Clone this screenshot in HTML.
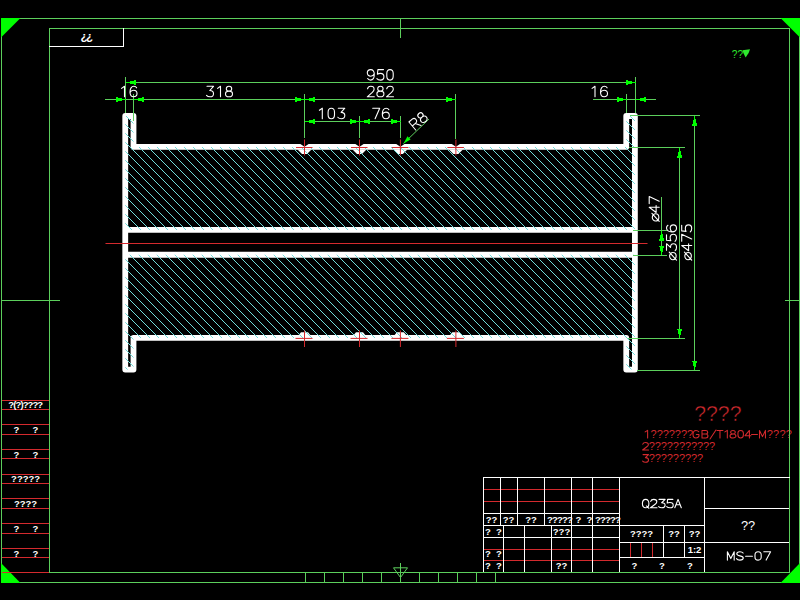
<!DOCTYPE html>
<html><head><meta charset="utf-8"><title>drawing</title>
<style>
html,body{margin:0;padding:0;background:#000;width:800px;height:600px;overflow:hidden;}
svg{display:block;font-family:"Liberation Sans",sans-serif;}
</style></head>
<body>
<svg width="800" height="600" viewBox="0 0 800 600">
<rect x="0" y="0" width="800" height="600" fill="#000"/>
<text x="748" y="530" font-size="12.8" fill="#ffffff" text-anchor="middle" font-family="Liberation Sans">??</text>
<text x="694.2" y="420.8" font-size="21.2" fill="#d42a2e" stroke="#000" stroke-width="0.5" font-family="Liberation Sans" letter-spacing="0.05">????</text>
<text x="650.6" y="438.3" font-size="11" fill="#d42a2e" stroke="none" stroke-width="0" font-family="Liberation Sans" letter-spacing="-0.05">???????</text>
<text x="766.8" y="438.3" font-size="11" fill="#d42a2e" stroke="none" stroke-width="0" font-family="Liberation Sans" letter-spacing="0.2">????</text>
<text x="648.8" y="450.3" font-size="11" fill="#d42a2e" stroke="none" stroke-width="0" font-family="Liberation Sans" letter-spacing="-0.1">???????????</text>
<text x="648.8" y="462.3" font-size="11" fill="#d42a2e" stroke="none" stroke-width="0" font-family="Liberation Sans" letter-spacing="-0.1">?????????</text>
<line x1="1" y1="18.5" x2="800" y2="18.5" stroke="#5ccf5c" stroke-width="1"/>
<line x1="1" y1="582.5" x2="800" y2="582.5" stroke="#5ccf5c" stroke-width="1"/>
<line x1="1.5" y1="18" x2="1.5" y2="583" stroke="#5ccf5c" stroke-width="1"/>
<line x1="799.5" y1="18" x2="799.5" y2="583" stroke="#5ccf5c" stroke-width="1"/>
<line x1="49" y1="28.5" x2="790" y2="28.5" stroke="#5ccf5c" stroke-width="1"/>
<line x1="49" y1="572.5" x2="790" y2="572.5" stroke="#5ccf5c" stroke-width="1"/>
<line x1="49.5" y1="28" x2="49.5" y2="573" stroke="#5ccf5c" stroke-width="1"/>
<line x1="789.5" y1="28" x2="789.5" y2="573" stroke="#5ccf5c" stroke-width="1"/>
<polygon points="1,18 20.5,18 1,37.5" fill="#00ff00"/>
<polygon points="780.5,18 800,18 800,37.5" fill="#00ff00"/>
<polygon points="1,563 1,583 20.5,583" fill="#00ff00"/>
<polygon points="780.5,583 800,583 800,563" fill="#00ff00"/>
<line x1="400.5" y1="18" x2="400.5" y2="38" stroke="#5ccf5c" stroke-width="1"/>
<line x1="1" y1="300.5" x2="60" y2="300.5" stroke="#5ccf5c" stroke-width="1"/>
<line x1="785" y1="300.5" x2="800" y2="300.5" stroke="#5ccf5c" stroke-width="1"/>
<line x1="305.5" y1="572" x2="305.5" y2="583" stroke="#5ccf5c" stroke-width="1"/>
<line x1="324.5" y1="572" x2="324.5" y2="583" stroke="#5ccf5c" stroke-width="1"/>
<line x1="343.5" y1="572" x2="343.5" y2="583" stroke="#5ccf5c" stroke-width="1"/>
<line x1="362.5" y1="572" x2="362.5" y2="583" stroke="#5ccf5c" stroke-width="1"/>
<line x1="381.5" y1="572" x2="381.5" y2="583" stroke="#5ccf5c" stroke-width="1"/>
<line x1="400.5" y1="572" x2="400.5" y2="583" stroke="#5ccf5c" stroke-width="1"/>
<line x1="419.5" y1="572" x2="419.5" y2="583" stroke="#5ccf5c" stroke-width="1"/>
<line x1="438.5" y1="572" x2="438.5" y2="583" stroke="#5ccf5c" stroke-width="1"/>
<line x1="457.5" y1="572" x2="457.5" y2="583" stroke="#5ccf5c" stroke-width="1"/>
<line x1="476.5" y1="572" x2="476.5" y2="583" stroke="#5ccf5c" stroke-width="1"/>
<line x1="495.5" y1="572" x2="495.5" y2="583" stroke="#5ccf5c" stroke-width="1"/>
<polygon points="393.5,567.8 407.5,567.8 400.5,577.5" fill="none" stroke="#5ccf5c" stroke-width="1"/>
<line x1="400.5" y1="563" x2="400.5" y2="578" stroke="#5ccf5c" stroke-width="1"/>
<line x1="2" y1="400.5" x2="49" y2="400.5" stroke="#d42a2e" stroke-width="1"/>
<line x1="2" y1="409.5" x2="49" y2="409.5" stroke="#d42a2e" stroke-width="1"/>
<line x1="2" y1="424.5" x2="49" y2="424.5" stroke="#d42a2e" stroke-width="1"/>
<line x1="2" y1="434.5" x2="49" y2="434.5" stroke="#d42a2e" stroke-width="1"/>
<line x1="2" y1="449.5" x2="49" y2="449.5" stroke="#d42a2e" stroke-width="1"/>
<line x1="2" y1="458.5" x2="49" y2="458.5" stroke="#d42a2e" stroke-width="1"/>
<line x1="2" y1="474.5" x2="49" y2="474.5" stroke="#d42a2e" stroke-width="1"/>
<line x1="2" y1="483.5" x2="49" y2="483.5" stroke="#d42a2e" stroke-width="1"/>
<line x1="2" y1="498.5" x2="49" y2="498.5" stroke="#d42a2e" stroke-width="1"/>
<line x1="2" y1="508.5" x2="49" y2="508.5" stroke="#d42a2e" stroke-width="1"/>
<line x1="2" y1="523.5" x2="49" y2="523.5" stroke="#d42a2e" stroke-width="1"/>
<line x1="2" y1="533.5" x2="49" y2="533.5" stroke="#d42a2e" stroke-width="1"/>
<line x1="2" y1="548.5" x2="49" y2="548.5" stroke="#d42a2e" stroke-width="1"/>
<line x1="2" y1="557.5" x2="49" y2="557.5" stroke="#d42a2e" stroke-width="1"/>
<line x1="2" y1="572.5" x2="49" y2="572.5" stroke="#d42a2e" stroke-width="1"/>
<line x1="483" y1="489.5" x2="619" y2="489.5" stroke="#d42a2e" stroke-width="1"/>
<line x1="483" y1="501.5" x2="619" y2="501.5" stroke="#d42a2e" stroke-width="1"/>
<line x1="483" y1="549.5" x2="619" y2="549.5" stroke="#d42a2e" stroke-width="1"/>
<line x1="483" y1="560.5" x2="619" y2="560.5" stroke="#d42a2e" stroke-width="1"/>
<line x1="630.5" y1="543" x2="630.5" y2="557" stroke="#d42a2e" stroke-width="1"/>
<line x1="641.5" y1="543" x2="641.5" y2="557" stroke="#d42a2e" stroke-width="1"/>
<line x1="652.5" y1="543" x2="652.5" y2="557" stroke="#d42a2e" stroke-width="1"/>
<line x1="630.5" y1="545" x2="630.5" y2="555" stroke="#d42a2e" stroke-width="1"/>
<line x1="483" y1="477.5" x2="790" y2="477.5" stroke="#ffffff" stroke-width="1"/>
<line x1="483.5" y1="477" x2="483.5" y2="572" stroke="#ffffff" stroke-width="1"/>
<line x1="619.5" y1="477" x2="619.5" y2="572" stroke="#ffffff" stroke-width="1"/>
<line x1="704.5" y1="477" x2="704.5" y2="572" stroke="#ffffff" stroke-width="1"/>
<line x1="483" y1="513.5" x2="619" y2="513.5" stroke="#ffffff" stroke-width="1"/>
<line x1="483" y1="525.5" x2="704" y2="525.5" stroke="#ffffff" stroke-width="1"/>
<line x1="483" y1="537.5" x2="619" y2="537.5" stroke="#ffffff" stroke-width="1"/>
<line x1="704" y1="508.5" x2="789" y2="508.5" stroke="#ffffff" stroke-width="1"/>
<line x1="619" y1="542.5" x2="789" y2="542.5" stroke="#ffffff" stroke-width="1"/>
<line x1="619" y1="557.5" x2="704" y2="557.5" stroke="#ffffff" stroke-width="1"/>
<line x1="500.5" y1="477" x2="500.5" y2="525" stroke="#ffffff" stroke-width="1"/>
<line x1="517.5" y1="477" x2="517.5" y2="525" stroke="#ffffff" stroke-width="1"/>
<line x1="544.5" y1="477" x2="544.5" y2="525" stroke="#ffffff" stroke-width="1"/>
<line x1="571.5" y1="477" x2="571.5" y2="572" stroke="#ffffff" stroke-width="1"/>
<line x1="592.5" y1="477" x2="592.5" y2="572" stroke="#ffffff" stroke-width="1"/>
<line x1="503.5" y1="525" x2="503.5" y2="572" stroke="#ffffff" stroke-width="1"/>
<line x1="524.5" y1="525" x2="524.5" y2="572" stroke="#ffffff" stroke-width="1"/>
<line x1="551.5" y1="525" x2="551.5" y2="572" stroke="#ffffff" stroke-width="1"/>
<line x1="663.5" y1="525" x2="663.5" y2="557" stroke="#ffffff" stroke-width="1"/>
<line x1="684.5" y1="525" x2="684.5" y2="557" stroke="#ffffff" stroke-width="1"/>
<line x1="123.5" y1="28" x2="123.5" y2="47" stroke="#ffffff" stroke-width="1"/>
<line x1="49" y1="46.5" x2="124" y2="46.5" stroke="#ffffff" stroke-width="1"/>
<path d="M125.25,229.9 V116.0 H133.5 V146.9 H626.25 V116.0 H634.9 V229.9 Z M125.25,254.75 V369.6 H133.5 V337.9 H626.25 V369.6 H634.9 V254.75 Z M125.25,229.9 V254.75 M634.9,229.9 V254.75" fill="none" stroke="#ffffff" stroke-width="5.8" stroke-linejoin="round" stroke-linecap="round"/>
<polygon points="297.5,149.5 302.0,154 307.0,154 311.5,149.5" fill="#ffffff"/>
<polygon points="298.5,335.3 301.0,332.3 308.0,332.3 310.5,335.3" fill="#ffffff"/>
<polygon points="352.5,149.5 357.0,154 362.0,154 366.5,149.5" fill="#ffffff"/>
<polygon points="353.5,335.3 356.0,332.3 363.0,332.3 365.5,335.3" fill="#ffffff"/>
<polygon points="393.4,149.5 397.9,154 402.9,154 407.4,149.5" fill="#ffffff"/>
<polygon points="394.4,335.3 396.9,332.3 403.9,332.3 406.4,335.3" fill="#ffffff"/>
<polygon points="448.9,149.5 453.4,154 458.4,154 462.9,149.5" fill="#ffffff"/>
<polygon points="449.9,335.3 452.4,332.3 459.4,332.3 461.9,335.3" fill="#ffffff"/>
<clipPath id="hc"><path d="M125.25,229.9 V116.0 H133.5 V146.9 H626.25 V116.0 H634.9 V229.9 Z M125.25,254.75 V369.6 H133.5 V337.9 H626.25 V369.6 H634.9 V254.75 Z"/></clipPath>
<g clip-path="url(#hc)">
<path d="M-182,105L93,380M-173,105L102,380M-164,105L111,380M-155,105L120,380M-146,105L129,380M-137,105L138,380M-128,105L147,380M-119,105L156,380M-110,105L165,380M-101,105L174,380M-92,105L183,380M-83,105L192,380M-74,105L201,380M-65,105L210,380M-56,105L219,380M-47,105L228,380M-38,105L237,380M-29,105L246,380M-20,105L255,380M-11,105L264,380M-2,105L273,380M7,105L282,380M16,105L291,380M25,105L300,380M34,105L309,380M43,105L318,380M52,105L327,380M61,105L336,380M70,105L345,380M79,105L354,380M88,105L363,380M97,105L372,380M106,105L381,380M115,105L390,380M124,105L399,380M133,105L408,380M142,105L417,380M151,105L426,380M160,105L435,380M169,105L444,380M178,105L453,380M187,105L462,380M196,105L471,380M205,105L480,380M214,105L489,380M223,105L498,380M232,105L507,380M241,105L516,380M250,105L525,380M259,105L534,380M268,105L543,380M277,105L552,380M286,105L561,380M295,105L570,380M304,105L579,380M313,105L588,380M322,105L597,380M331,105L606,380M340,105L615,380M349,105L624,380M358,105L633,380M367,105L642,380M376,105L651,380M385,105L660,380M394,105L669,380M403,105L678,380M412,105L687,380M421,105L696,380M430,105L705,380M439,105L714,380M448,105L723,380M457,105L732,380M466,105L741,380M475,105L750,380M484,105L759,380M493,105L768,380M502,105L777,380M511,105L786,380M520,105L795,380M529,105L804,380M538,105L813,380M547,105L822,380M556,105L831,380M565,105L840,380M574,105L849,380M583,105L858,380M592,105L867,380M601,105L876,380M610,105L885,380M619,105L894,380M628,105L903,380M637,105L912,380M646,105L921,380M655,105L930,380" stroke="#70dcda" stroke-width="1" fill="none"/>
</g>
<polygon points="300.0,143.8 304.5,146.8 309.0,143.8" fill="#000"/>
<line x1="296.0" y1="147.5" x2="312.5" y2="147.5" stroke="#d42a2e" stroke-width="1"/>
<line x1="304.5" y1="139.5" x2="304.5" y2="155.5" stroke="#d42a2e" stroke-width="1"/>
<line x1="295.5" y1="338.4" x2="312.5" y2="338.4" stroke="#d42a2e" stroke-width="1"/>
<line x1="304.5" y1="330.5" x2="304.5" y2="347" stroke="#d42a2e" stroke-width="1"/>
<polygon points="355.0,143.8 359.5,146.8 364.0,143.8" fill="#000"/>
<line x1="351.0" y1="147.5" x2="367.5" y2="147.5" stroke="#d42a2e" stroke-width="1"/>
<line x1="359.5" y1="139.5" x2="359.5" y2="155.5" stroke="#d42a2e" stroke-width="1"/>
<line x1="350.5" y1="338.4" x2="367.5" y2="338.4" stroke="#d42a2e" stroke-width="1"/>
<line x1="359.5" y1="330.5" x2="359.5" y2="347" stroke="#d42a2e" stroke-width="1"/>
<polygon points="395.9,143.8 400.4,146.8 404.9,143.8" fill="#000"/>
<line x1="391.9" y1="147.5" x2="408.4" y2="147.5" stroke="#d42a2e" stroke-width="1"/>
<line x1="400.4" y1="139.5" x2="400.4" y2="155.5" stroke="#d42a2e" stroke-width="1"/>
<line x1="391.4" y1="338.4" x2="408.4" y2="338.4" stroke="#d42a2e" stroke-width="1"/>
<line x1="400.4" y1="330.5" x2="400.4" y2="347" stroke="#d42a2e" stroke-width="1"/>
<polygon points="451.4,143.8 455.9,146.8 460.4,143.8" fill="#000"/>
<line x1="447.4" y1="147.5" x2="463.9" y2="147.5" stroke="#d42a2e" stroke-width="1"/>
<line x1="455.9" y1="139.5" x2="455.9" y2="155.5" stroke="#d42a2e" stroke-width="1"/>
<line x1="446.9" y1="338.4" x2="463.9" y2="338.4" stroke="#d42a2e" stroke-width="1"/>
<line x1="455.9" y1="330.5" x2="455.9" y2="347" stroke="#d42a2e" stroke-width="1"/>
<line x1="105.5" y1="243.5" x2="647.5" y2="243.5" stroke="#d42a2e" stroke-width="1"/>
<line x1="125" y1="82.5" x2="636" y2="82.5" stroke="#5ccf5c" stroke-width="1"/>
<line x1="125.5" y1="77" x2="125.5" y2="113" stroke="#5ccf5c" stroke-width="1"/>
<line x1="635.5" y1="77" x2="635.5" y2="113" stroke="#5ccf5c" stroke-width="1"/>
<polygon points="125.5,82.5 135.5,80.0 135.5,85.0" fill="#00ff00" shape-rendering="crispEdges"/>
<polygon points="635.5,82.5 625.5,80.0 625.5,85.0" fill="#00ff00" shape-rendering="crispEdges"/>
<line x1="105" y1="99.5" x2="456" y2="99.5" stroke="#5ccf5c" stroke-width="1"/>
<line x1="593" y1="99.5" x2="656" y2="99.5" stroke="#5ccf5c" stroke-width="1"/>
<line x1="133.5" y1="94" x2="133.5" y2="121" stroke="#5ccf5c" stroke-width="1"/>
<line x1="304.5" y1="94" x2="304.5" y2="138" stroke="#5ccf5c" stroke-width="1"/>
<line x1="455.5" y1="94" x2="455.5" y2="139" stroke="#5ccf5c" stroke-width="1"/>
<line x1="626.5" y1="94" x2="626.5" y2="113" stroke="#5ccf5c" stroke-width="1"/>
<polygon points="125.5,99.5 115.5,97.0 115.5,102.0" fill="#00ff00" shape-rendering="crispEdges"/>
<polygon points="133.5,99.5 143.5,97.0 143.5,102.0" fill="#00ff00" shape-rendering="crispEdges"/>
<polygon points="304.5,99.5 294.5,97.0 294.5,102.0" fill="#00ff00" shape-rendering="crispEdges"/>
<polygon points="304.5,99.5 314.5,97.0 314.5,102.0" fill="#00ff00" shape-rendering="crispEdges"/>
<polygon points="455.5,99.5 445.5,97.0 445.5,102.0" fill="#00ff00" shape-rendering="crispEdges"/>
<polygon points="626.5,99.5 616.5,97.0 616.5,102.0" fill="#00ff00" shape-rendering="crispEdges"/>
<polygon points="635.5,99.5 645.5,97.0 645.5,102.0" fill="#00ff00" shape-rendering="crispEdges"/>
<line x1="304" y1="121.5" x2="401" y2="121.5" stroke="#5ccf5c" stroke-width="1"/>
<line x1="359.5" y1="116" x2="359.5" y2="138" stroke="#5ccf5c" stroke-width="1"/>
<line x1="400.5" y1="116" x2="400.5" y2="138" stroke="#5ccf5c" stroke-width="1"/>
<polygon points="304.5,121.5 314.5,119.0 314.5,124.0" fill="#00ff00" shape-rendering="crispEdges"/>
<polygon points="359.5,121.5 349.5,119.0 349.5,124.0" fill="#00ff00" shape-rendering="crispEdges"/>
<polygon points="359.5,121.5 369.5,119.0 369.5,124.0" fill="#00ff00" shape-rendering="crispEdges"/>
<polygon points="400.5,121.5 390.5,119.0 390.5,124.0" fill="#00ff00" shape-rendering="crispEdges"/>
<line x1="403.5" y1="143.5" x2="429" y2="119" stroke="#5ccf5c" stroke-width="1"/>
<polygon points="403.5,143.5 407.5,136.3 410.6,139.5" fill="#00ff00"/>
<line x1="630" y1="115.5" x2="700" y2="115.5" stroke="#5ccf5c" stroke-width="1"/>
<line x1="637" y1="370.5" x2="700" y2="370.5" stroke="#5ccf5c" stroke-width="1"/>
<line x1="694.5" y1="115.5" x2="694.5" y2="370.5" stroke="#5ccf5c" stroke-width="1"/>
<polygon points="694.5,115.5 692.0,125.5 697.0,125.5" fill="#00ff00" shape-rendering="crispEdges"/>
<polygon points="694.5,370.5 692.0,360.5 697.0,360.5" fill="#00ff00" shape-rendering="crispEdges"/>
<line x1="629" y1="147.5" x2="685" y2="147.5" stroke="#5ccf5c" stroke-width="1"/>
<line x1="628" y1="338.5" x2="685" y2="338.5" stroke="#5ccf5c" stroke-width="1"/>
<line x1="679.5" y1="147.5" x2="679.5" y2="338.5" stroke="#5ccf5c" stroke-width="1"/>
<polygon points="679.5,147.5 677.0,157.5 682.0,157.5" fill="#00ff00" shape-rendering="crispEdges"/>
<polygon points="679.5,338.5 677.0,328.5 682.0,328.5" fill="#00ff00" shape-rendering="crispEdges"/>
<line x1="633" y1="230.5" x2="667" y2="230.5" stroke="#5ccf5c" stroke-width="1"/>
<line x1="633" y1="255.5" x2="667" y2="255.5" stroke="#5ccf5c" stroke-width="1"/>
<line x1="661.5" y1="197" x2="661.5" y2="256" stroke="#5ccf5c" stroke-width="1"/>
<polygon points="661.5,230.5 659.0,240.5 664.0,240.5" fill="#00ff00" shape-rendering="crispEdges"/>
<polygon points="661.5,255.5 659.0,245.5 664.0,245.5" fill="#00ff00" shape-rendering="crispEdges"/>
<g transform="translate(367.3,69.6) scale(1.0,0.9545)" fill="none" stroke="#ffffff" stroke-width="1.1" stroke-linejoin="round" stroke-linecap="round"><path vector-effect="non-scaling-stroke" transform="translate(0.000,0)" d="M0.4,9.4 C0.9,10.4 2,11 3.2,11 C5.5,11 7,8.5 7,5 C7,1.7 5.6,0 3.4,0 C1.3,0 0,1.4 0,3.4 C0,5.5 1.4,6.9 3.4,6.9 C5.2,6.9 6.4,6 7,4.4"/><path vector-effect="non-scaling-stroke" transform="translate(9.600,0)" d="M6.6,0 L1,0 L0.5,4.8 C1.3,4.3 2.4,4 3.5,4 C5.7,4 7,5.5 7,7.5 C7,9.7 5.6,11 3.5,11 C2,11 0.8,10.4 0,9.4"/><path vector-effect="non-scaling-stroke" transform="translate(19.200,0)" d="M3.5,0 C1.3,0 0.3,1.6 0.3,4.2 L0.3,6.8 C0.3,9.4 1.3,11 3.5,11 C5.7,11 6.7,9.4 6.7,6.8 L6.7,4.2 C6.7,1.6 5.7,0 3.5,0 Z"/></g>
<g transform="translate(206.5,86.3) scale(1.0,0.9545)" fill="none" stroke="#ffffff" stroke-width="1.1" stroke-linejoin="round" stroke-linecap="round"><path vector-effect="non-scaling-stroke" transform="translate(0.000,0)" d="M0.5,0 L7,0 L3.3,4.4 C5.8,4.4 7,5.8 7,7.7 C7,9.8 5.6,11 3.5,11 C2,11 0.8,10.5 0,9.5"/><path vector-effect="non-scaling-stroke" transform="translate(9.500,0)" d="M1.6,2.2 L4.5,0 L4.5,11"/><path vector-effect="non-scaling-stroke" transform="translate(19.000,0)" d="M3.5,0 C1.9,0 0.8,1 0.8,2.6 C0.8,4.1 1.9,5.1 3.5,5.1 C5.1,5.1 6.2,4.1 6.2,2.6 C6.2,1 5.1,0 3.5,0 Z M3.5,5.1 C1.4,5.1 0,6.2 0,8 C0,9.8 1.4,11 3.5,11 C5.6,11 7,9.8 7,8 C7,6.2 5.6,5.1 3.5,5.1 Z"/></g>
<g transform="translate(367.3,86.3) scale(1.0,0.9545)" fill="none" stroke="#ffffff" stroke-width="1.1" stroke-linejoin="round" stroke-linecap="round"><path vector-effect="non-scaling-stroke" transform="translate(0.000,0)" d="M0.2,2.6 C0.6,0.9 1.9,0 3.5,0 C5.4,0 6.8,1.2 6.8,3 C6.8,4.4 6,5.4 5,6.3 L0,11 L7,11"/><path vector-effect="non-scaling-stroke" transform="translate(9.600,0)" d="M3.5,0 C1.9,0 0.8,1 0.8,2.6 C0.8,4.1 1.9,5.1 3.5,5.1 C5.1,5.1 6.2,4.1 6.2,2.6 C6.2,1 5.1,0 3.5,0 Z M3.5,5.1 C1.4,5.1 0,6.2 0,8 C0,9.8 1.4,11 3.5,11 C5.6,11 7,9.8 7,8 C7,6.2 5.6,5.1 3.5,5.1 Z"/><path vector-effect="non-scaling-stroke" transform="translate(19.200,0)" d="M0.2,2.6 C0.6,0.9 1.9,0 3.5,0 C5.4,0 6.8,1.2 6.8,3 C6.8,4.4 6,5.4 5,6.3 L0,11 L7,11"/></g>
<g transform="translate(120.0,86.3) scale(1.0,0.9545)" fill="none" stroke="#ffffff" stroke-width="1.1" stroke-linejoin="round" stroke-linecap="round"><path vector-effect="non-scaling-stroke" transform="translate(0.000,0)" d="M1.6,2.2 L4.5,0 L4.5,11"/><path vector-effect="non-scaling-stroke" transform="translate(10.000,0)" d="M6.6,1.6 C6.1,0.6 5,0 3.8,0 C1.5,0 0,2.5 0,6 C0,9.3 1.4,11 3.6,11 C5.7,11 7,9.6 7,7.6 C7,5.5 5.6,4.1 3.6,4.1 C1.8,4.1 0.6,5 0,6.6"/></g>
<g transform="translate(590.5,86.3) scale(1.0,0.9545)" fill="none" stroke="#ffffff" stroke-width="1.1" stroke-linejoin="round" stroke-linecap="round"><path vector-effect="non-scaling-stroke" transform="translate(0.000,0)" d="M1.6,2.2 L4.5,0 L4.5,11"/><path vector-effect="non-scaling-stroke" transform="translate(10.000,0)" d="M6.6,1.6 C6.1,0.6 5,0 3.8,0 C1.5,0 0,2.5 0,6 C0,9.3 1.4,11 3.6,11 C5.7,11 7,9.6 7,7.6 C7,5.5 5.6,4.1 3.6,4.1 C1.8,4.1 0.6,5 0,6.6"/></g>
<g transform="translate(317.8,108.2) scale(1.0,0.9545)" fill="none" stroke="#ffffff" stroke-width="1.1" stroke-linejoin="round" stroke-linecap="round"><path vector-effect="non-scaling-stroke" transform="translate(0.000,0)" d="M1.6,2.2 L4.5,0 L4.5,11"/><path vector-effect="non-scaling-stroke" transform="translate(10.000,0)" d="M3.5,0 C1.3,0 0.3,1.6 0.3,4.2 L0.3,6.8 C0.3,9.4 1.3,11 3.5,11 C5.7,11 6.7,9.4 6.7,6.8 L6.7,4.2 C6.7,1.6 5.7,0 3.5,0 Z"/><path vector-effect="non-scaling-stroke" transform="translate(20.000,0)" d="M0.5,0 L7,0 L3.3,4.4 C5.8,4.4 7,5.8 7,7.7 C7,9.8 5.6,11 3.5,11 C2,11 0.8,10.5 0,9.5"/></g>
<g transform="translate(372.7,108.2) scale(1.0,0.9545)" fill="none" stroke="#ffffff" stroke-width="1.1" stroke-linejoin="round" stroke-linecap="round"><path vector-effect="non-scaling-stroke" transform="translate(0.000,0)" d="M0,0 L7,0 L2.4,11"/><path vector-effect="non-scaling-stroke" transform="translate(9.600,0)" d="M6.6,1.6 C6.1,0.6 5,0 3.8,0 C1.5,0 0,2.5 0,6 C0,9.3 1.4,11 3.6,11 C5.7,11 7,9.6 7,7.6 C7,5.5 5.6,4.1 3.6,4.1 C1.8,4.1 0.6,5 0,6.6"/></g>
<g transform="translate(408.9,122) rotate(-40.5) scale(1.0,0.9545)" fill="none" stroke="#ffffff" stroke-width="1.1" stroke-linejoin="round" stroke-linecap="round"><path vector-effect="non-scaling-stroke" transform="translate(0.000,0)" d="M0,11 L0,0 L4.4,0 C6.1,0 7,1.2 7,2.8 C7,4.4 6.1,5.5 4.4,5.5 L0,5.5 M3.8,5.5 L7,11"/><path vector-effect="non-scaling-stroke" transform="translate(9.600,0)" d="M3.5,0 C1.9,0 0.8,1 0.8,2.6 C0.8,4.1 1.9,5.1 3.5,5.1 C5.1,5.1 6.2,4.1 6.2,2.6 C6.2,1 5.1,0 3.5,0 Z M3.5,5.1 C1.4,5.1 0,6.2 0,8 C0,9.8 1.4,11 3.5,11 C5.6,11 7,9.8 7,8 C7,6.2 5.6,5.1 3.5,5.1 Z"/></g>
<g transform="translate(649.2,221.4) rotate(-90) scale(1.0,0.9091)" fill="none" stroke="#ffffff" stroke-width="1.1" stroke-linejoin="round" stroke-linecap="round"><path vector-effect="non-scaling-stroke" transform="translate(0.000,0)" d="M4,3.4 C2,3.4 0.4,5 0.4,7 C0.4,9 2,10.6 4,10.6 C6,10.6 7.6,9 7.6,7 C7.6,5 6,3.4 4,3.4 Z M0,11 L8,3"/><path vector-effect="non-scaling-stroke" transform="translate(8.900,0)" d="M5.2,11 L5.2,0 L0,7.6 L7,7.6"/><path vector-effect="non-scaling-stroke" transform="translate(17.800,0)" d="M0,0 L7,0 L2.4,11"/></g>
<g transform="translate(666.5,260.1) rotate(-90) scale(1.0,0.9091)" fill="none" stroke="#ffffff" stroke-width="1.1" stroke-linejoin="round" stroke-linecap="round"><path vector-effect="non-scaling-stroke" transform="translate(0.000,0)" d="M4,3.4 C2,3.4 0.4,5 0.4,7 C0.4,9 2,10.6 4,10.6 C6,10.6 7.6,9 7.6,7 C7.6,5 6,3.4 4,3.4 Z M0,11 L8,3"/><path vector-effect="non-scaling-stroke" transform="translate(9.400,0)" d="M0.5,0 L7,0 L3.3,4.4 C5.8,4.4 7,5.8 7,7.7 C7,9.8 5.6,11 3.5,11 C2,11 0.8,10.5 0,9.5"/><path vector-effect="non-scaling-stroke" transform="translate(18.800,0)" d="M6.6,0 L1,0 L0.5,4.8 C1.3,4.3 2.4,4 3.5,4 C5.7,4 7,5.5 7,7.5 C7,9.7 5.6,11 3.5,11 C2,11 0.8,10.4 0,9.4"/><path vector-effect="non-scaling-stroke" transform="translate(28.200,0)" d="M6.6,1.6 C6.1,0.6 5,0 3.8,0 C1.5,0 0,2.5 0,6 C0,9.3 1.4,11 3.6,11 C5.7,11 7,9.6 7,7.6 C7,5.5 5.6,4.1 3.6,4.1 C1.8,4.1 0.6,5 0,6.6"/></g>
<g transform="translate(681.7,260.1) rotate(-90) scale(1.0,0.9091)" fill="none" stroke="#ffffff" stroke-width="1.1" stroke-linejoin="round" stroke-linecap="round"><path vector-effect="non-scaling-stroke" transform="translate(0.000,0)" d="M4,3.4 C2,3.4 0.4,5 0.4,7 C0.4,9 2,10.6 4,10.6 C6,10.6 7.6,9 7.6,7 C7.6,5 6,3.4 4,3.4 Z M0,11 L8,3"/><path vector-effect="non-scaling-stroke" transform="translate(9.400,0)" d="M5.2,11 L5.2,0 L0,7.6 L7,7.6"/><path vector-effect="non-scaling-stroke" transform="translate(18.800,0)" d="M0,0 L7,0 L2.4,11"/><path vector-effect="non-scaling-stroke" transform="translate(28.200,0)" d="M6.6,0 L1,0 L0.5,4.8 C1.3,4.3 2.4,4 3.5,4 C5.7,4 7,5.5 7,7.5 C7,9.7 5.6,11 3.5,11 C2,11 0.8,10.4 0,9.4"/></g>
<g transform="translate(642.4,499.4) scale(0.93,0.7636)" fill="none" stroke="#ffffff" stroke-width="1.1" stroke-linejoin="round" stroke-linecap="round"><path vector-effect="non-scaling-stroke" transform="translate(0.000,0)" d="M3.5,0 C1.2,0 0,2.3 0,5.5 C0,8.7 1.2,11 3.5,11 C5.8,11 7,8.7 7,5.5 C7,2.3 5.8,0 3.5,0 Z M4.3,8.6 L7,11.6"/><path vector-effect="non-scaling-stroke" transform="translate(8.710,0)" d="M0.2,2.6 C0.6,0.9 1.9,0 3.5,0 C5.4,0 6.8,1.2 6.8,3 C6.8,4.4 6,5.4 5,6.3 L0,11 L7,11"/><path vector-effect="non-scaling-stroke" transform="translate(17.419,0)" d="M0.5,0 L7,0 L3.3,4.4 C5.8,4.4 7,5.8 7,7.7 C7,9.8 5.6,11 3.5,11 C2,11 0.8,10.5 0,9.5"/><path vector-effect="non-scaling-stroke" transform="translate(26.129,0)" d="M6.6,0 L1,0 L0.5,4.8 C1.3,4.3 2.4,4 3.5,4 C5.7,4 7,5.5 7,7.5 C7,9.7 5.6,11 3.5,11 C2,11 0.8,10.4 0,9.4"/><path vector-effect="non-scaling-stroke" transform="translate(34.839,0)" d="M0,11 L3.5,0 L7,11 M1.3,7 L5.7,7"/></g>
<g transform="translate(727.4,551.7) scale(0.97,0.7636)" fill="none" stroke="#ffffff" stroke-width="1.1" stroke-linejoin="round" stroke-linecap="round"><path vector-effect="non-scaling-stroke" transform="translate(0.000,0)" d="M0,11 L0,0 L3.5,9 L7,0 L7,11"/><path vector-effect="non-scaling-stroke" transform="translate(9.381,0)" d="M6.8,1.8 C6.2,0.6 5,0 3.5,0 C1.6,0 0.3,1.1 0.3,2.8 C0.3,4.6 1.8,5.1 3.5,5.5 C5.4,5.9 7,6.6 7,8.4 C7,10 5.6,11 3.5,11 C1.8,11 0.6,10.3 0,9.1"/><path vector-effect="non-scaling-stroke" transform="translate(18.763,0)" d="M0,6 L7,6"/><path vector-effect="non-scaling-stroke" transform="translate(28.144,0)" d="M3.5,0 C1.3,0 0.3,1.6 0.3,4.2 L0.3,6.8 C0.3,9.4 1.3,11 3.5,11 C5.7,11 6.7,9.4 6.7,6.8 L6.7,4.2 C6.7,1.6 5.7,0 3.5,0 Z"/><path vector-effect="non-scaling-stroke" transform="translate(37.526,0)" d="M0,0 L7,0 L2.4,11"/></g>
<text x="491.5" y="523" font-size="9.5" fill="#ffffff" text-anchor="middle" font-family="Liberation Sans" font-weight="bold">??</text>
<text x="508.5" y="523" font-size="9.5" fill="#ffffff" text-anchor="middle" font-family="Liberation Sans" font-weight="bold">??</text>
<text x="531" y="523" font-size="9.5" fill="#ffffff" text-anchor="middle" font-family="Liberation Sans" font-weight="bold">??</text>
<text x="559.5" y="523" font-size="9.5" fill="#ffffff" text-anchor="middle" font-family="Liberation Sans" letter-spacing="-0.8" font-weight="bold">?????</text>
<text x="578.5" y="523" font-size="9.5" fill="#ffffff" text-anchor="middle" font-family="Liberation Sans" font-weight="bold">?</text>
<text x="589.5" y="523" font-size="9.5" fill="#ffffff" text-anchor="middle" font-family="Liberation Sans" font-weight="bold">?</text>
<text x="607.5" y="523" font-size="9.5" fill="#ffffff" text-anchor="middle" font-family="Liberation Sans" letter-spacing="-0.8" font-weight="bold">?????</text>
<text x="488" y="535" font-size="9.5" fill="#ffffff" text-anchor="middle" font-family="Liberation Sans" font-weight="bold">?</text>
<text x="499" y="535" font-size="9.5" fill="#ffffff" text-anchor="middle" font-family="Liberation Sans" font-weight="bold">?</text>
<text x="561.5" y="535" font-size="9.5" fill="#ffffff" text-anchor="middle" font-family="Liberation Sans" font-weight="bold">???</text>
<text x="488" y="557" font-size="9.5" fill="#ffffff" text-anchor="middle" font-family="Liberation Sans" font-weight="bold">?</text>
<text x="499" y="557" font-size="9.5" fill="#ffffff" text-anchor="middle" font-family="Liberation Sans" font-weight="bold">?</text>
<text x="488" y="569" font-size="9.5" fill="#ffffff" text-anchor="middle" font-family="Liberation Sans" font-weight="bold">?</text>
<text x="499" y="569" font-size="9.5" fill="#ffffff" text-anchor="middle" font-family="Liberation Sans" font-weight="bold">?</text>
<text x="561.5" y="569" font-size="9.5" fill="#ffffff" text-anchor="middle" font-family="Liberation Sans" font-weight="bold">??</text>
<text x="641.5" y="537" font-size="9.5" fill="#ffffff" text-anchor="middle" font-family="Liberation Sans" font-weight="bold">????</text>
<text x="674" y="537" font-size="9.5" fill="#ffffff" text-anchor="middle" font-family="Liberation Sans" font-weight="bold">??</text>
<text x="694.5" y="537" font-size="9.5" fill="#ffffff" text-anchor="middle" font-family="Liberation Sans" font-weight="bold">??</text>
<text x="694.5" y="553" font-size="9.5" fill="#ffffff" text-anchor="middle" font-family="Liberation Sans" font-weight="bold">1:2</text>
<text x="634.5" y="569" font-size="9.5" fill="#ffffff" text-anchor="middle" font-family="Liberation Sans" font-weight="bold">?</text>
<text x="662" y="569" font-size="9.5" fill="#ffffff" text-anchor="middle" font-family="Liberation Sans" font-weight="bold">?</text>
<text x="690" y="569" font-size="9.5" fill="#ffffff" text-anchor="middle" font-family="Liberation Sans" font-weight="bold">?</text>
<text x="25.3" y="408" font-size="9.5" fill="#ffffff" text-anchor="middle" font-family="Liberation Sans" letter-spacing="-0.9" font-weight="bold">?(?)????</text>
<text x="16.5" y="433" font-size="9.5" fill="#ffffff" text-anchor="middle" font-family="Liberation Sans" font-weight="bold">?</text>
<text x="35.5" y="433" font-size="9.5" fill="#ffffff" text-anchor="middle" font-family="Liberation Sans" font-weight="bold">?</text>
<text x="16.5" y="457.5" font-size="9.5" fill="#ffffff" text-anchor="middle" font-family="Liberation Sans" font-weight="bold">?</text>
<text x="35.5" y="457.5" font-size="9.5" fill="#ffffff" text-anchor="middle" font-family="Liberation Sans" font-weight="bold">?</text>
<text x="16.5" y="532" font-size="9.5" fill="#ffffff" text-anchor="middle" font-family="Liberation Sans" font-weight="bold">?</text>
<text x="35.5" y="532" font-size="9.5" fill="#ffffff" text-anchor="middle" font-family="Liberation Sans" font-weight="bold">?</text>
<text x="16.5" y="557" font-size="9.5" fill="#ffffff" text-anchor="middle" font-family="Liberation Sans" font-weight="bold">?</text>
<text x="35.5" y="557" font-size="9.5" fill="#ffffff" text-anchor="middle" font-family="Liberation Sans" font-weight="bold">?</text>
<text x="25.6" y="482" font-size="9.5" fill="#ffffff" text-anchor="middle" font-family="Liberation Sans" font-weight="bold">?????</text>
<text x="25.5" y="507" font-size="9.5" fill="#ffffff" text-anchor="middle" font-family="Liberation Sans" font-weight="bold">????</text>
<g transform="translate(643.8,430.4) scale(0.85,0.6909)" fill="none" stroke="#d42a2e" stroke-width="1.05" stroke-linejoin="round" stroke-linecap="round"><path vector-effect="non-scaling-stroke" transform="translate(0.000,0)" d="M1.6,2.2 L4.5,0 L4.5,11"/></g>
<g transform="translate(693,430.4) scale(0.85,0.6909)" fill="none" stroke="#d42a2e" stroke-width="1.05" stroke-linejoin="round" stroke-linecap="round"><path vector-effect="non-scaling-stroke" transform="translate(0.000,0)" d="M6.8,2 C6.2,0.7 5,0 3.5,0 C1.3,0 0,2.3 0,5.5 C0,8.7 1.3,11 3.5,11 C5.3,11 6.5,10 7,8.5 L7,6 L4,6"/></g>
<g transform="translate(702,430.4) scale(0.85,0.6909)" fill="none" stroke="#d42a2e" stroke-width="1.05" stroke-linejoin="round" stroke-linecap="round"><path vector-effect="non-scaling-stroke" transform="translate(0.000,0)" d="M0,11 L0,0 L4.3,0 C5.9,0 6.7,1 6.7,2.6 C6.7,4.2 5.9,5.2 4.3,5.2 L0,5.2 M4.3,5.2 C6.1,5.2 7,6.3 7,8.1 C7,9.9 6.1,11 4.3,11 L0,11"/></g>
<g transform="translate(710,430.4) scale(0.85,0.6909)" fill="none" stroke="#d42a2e" stroke-width="1.05" stroke-linejoin="round" stroke-linecap="round"><path vector-effect="non-scaling-stroke" transform="translate(0.000,0)" d="M0,12.5 L7,-0.5"/></g>
<g transform="translate(717,430.4) scale(0.85,0.6909)" fill="none" stroke="#d42a2e" stroke-width="1.05" stroke-linejoin="round" stroke-linecap="round"><path vector-effect="non-scaling-stroke" transform="translate(0.000,0)" d="M0,0 L7,0 M3.5,0 L3.5,11"/></g>
<g transform="translate(723.5,430.4) scale(0.85,0.6909)" fill="none" stroke="#d42a2e" stroke-width="1.05" stroke-linejoin="round" stroke-linecap="round"><path vector-effect="non-scaling-stroke" transform="translate(0.000,0)" d="M1.6,2.2 L4.5,0 L4.5,11"/></g>
<g transform="translate(730,430.4) scale(0.85,0.6909)" fill="none" stroke="#d42a2e" stroke-width="1.05" stroke-linejoin="round" stroke-linecap="round"><path vector-effect="non-scaling-stroke" transform="translate(0.000,0)" d="M3.5,0 C1.9,0 0.8,1 0.8,2.6 C0.8,4.1 1.9,5.1 3.5,5.1 C5.1,5.1 6.2,4.1 6.2,2.6 C6.2,1 5.1,0 3.5,0 Z M3.5,5.1 C1.4,5.1 0,6.2 0,8 C0,9.8 1.4,11 3.5,11 C5.6,11 7,9.8 7,8 C7,6.2 5.6,5.1 3.5,5.1 Z"/></g>
<g transform="translate(737.7,430.4) scale(0.85,0.6909)" fill="none" stroke="#d42a2e" stroke-width="1.05" stroke-linejoin="round" stroke-linecap="round"><path vector-effect="non-scaling-stroke" transform="translate(0.000,0)" d="M3.5,0 C1.3,0 0.3,1.6 0.3,4.2 L0.3,6.8 C0.3,9.4 1.3,11 3.5,11 C5.7,11 6.7,9.4 6.7,6.8 L6.7,4.2 C6.7,1.6 5.7,0 3.5,0 Z"/></g>
<g transform="translate(745,430.4) scale(0.85,0.6909)" fill="none" stroke="#d42a2e" stroke-width="1.05" stroke-linejoin="round" stroke-linecap="round"><path vector-effect="non-scaling-stroke" transform="translate(0.000,0)" d="M5.2,11 L5.2,0 L0,7.6 L7,7.6"/></g>
<g transform="translate(751.5,430.4) scale(0.85,0.6909)" fill="none" stroke="#d42a2e" stroke-width="1.05" stroke-linejoin="round" stroke-linecap="round"><path vector-effect="non-scaling-stroke" transform="translate(0.000,0)" d="M0,6 L7,6"/></g>
<g transform="translate(759.5,430.4) scale(0.85,0.6909)" fill="none" stroke="#d42a2e" stroke-width="1.05" stroke-linejoin="round" stroke-linecap="round"><path vector-effect="non-scaling-stroke" transform="translate(0.000,0)" d="M0,11 L0,0 L3.5,9 L7,0 L7,11"/></g>
<g transform="translate(642.6,442.4) scale(0.85,0.6909)" fill="none" stroke="#d42a2e" stroke-width="1.05" stroke-linejoin="round" stroke-linecap="round"><path vector-effect="non-scaling-stroke" transform="translate(0.000,0)" d="M0.2,2.6 C0.6,0.9 1.9,0 3.5,0 C5.4,0 6.8,1.2 6.8,3 C6.8,4.4 6,5.4 5,6.3 L0,11 L7,11"/></g>
<g transform="translate(642.6,454.6) scale(0.85,0.6909)" fill="none" stroke="#d42a2e" stroke-width="1.05" stroke-linejoin="round" stroke-linecap="round"><path vector-effect="non-scaling-stroke" transform="translate(0.000,0)" d="M0.5,0 L7,0 L3.3,4.4 C5.8,4.4 7,5.8 7,7.7 C7,9.8 5.6,11 3.5,11 C2,11 0.8,10.5 0,9.5"/></g>
<text x="731.8" y="58" font-size="10.2" fill="#2ee82e" text-anchor="start" font-family="Liberation Sans" >??</text>
<polygon points="742.5,50.2 750,49.3 748.6,53 745.6,57.5 743.6,53.5" fill="#2ee82e"/>
<text x="0" y="0" font-size="11.5" font-weight="bold" fill="#ffffff" font-family="Liberation Sans" text-anchor="middle" letter-spacing="-1.5" transform="translate(87.5,34) rotate(180)">??</text>
</svg>
</body></html>
